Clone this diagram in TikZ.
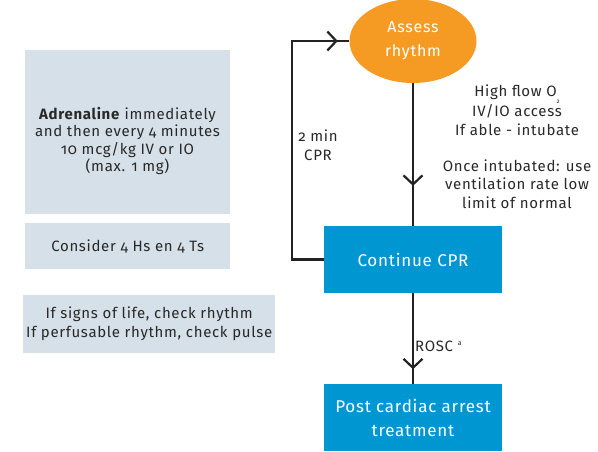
\documentclass[tikz,border=0pt]{standalone}
\usepackage{fontspec}
\setmainfont[Numbers=OldStyle,LetterSpace=4.5]{Fira Sans}
\usetikzlibrary{shapes.geometric,arrows.meta,decorations.markings}
\definecolor{flowblue}{RGB}{0,150,210}
\definecolor{flowgray}{RGB}{214,224,232}
\definecolor{floworange}{RGB}{245,155,35}
\definecolor{flowline}{RGB}{34,34,34}
\definecolor{flowtext}{RGB}{40,40,40}
\tikzset{
  x=1pt, y=-1pt,
  bluebox/.style={fill=flowblue, text=white, minimum width=178pt, minimum height=67pt,
    align=center, font=\fontsize{17}{24}\selectfont, inner sep=0pt},
  graybox/.style={fill=flowgray, anchor=north west, inner sep=0pt},
  note/.style={text=flowtext, align=center, font=\fontsize{15}{18}\selectfont, inner sep=0pt},
  flow/.style={draw=flowline, line width=2.2pt},
  midchevron/.style={postaction={decorate}, decoration={markings,
    mark=at position #1 with {\arrow{Straight Barb[length=9pt,width=19pt,line width=2.2pt]}}}},
}
\begin{document}
\begin{tikzpicture}
\useasboundingbox (0,0) rectangle (598,451);

% side panels
\node[graybox, minimum width=205pt, minimum height=164pt] (g1) at (25,50) {};
\node[graybox, minimum width=205pt, minimum height=46pt] (g2) at (25,223) {};
\node[graybox, minimum width=252pt, minimum height=58pt] (g3) at (23,295) {};
\node[note, font=\fontsize{15}{17.5}\selectfont] (t1) at (127.5,141) {\textbf{Adrenaline} immediately\\and then every 4 minutes\\10 mcg/kg IV or IO\\(max. 1 mg)};
\node[note] (t2) at (g2.center) {Consider 4 Hs en 4 Ts};
\node[note, font=\fontsize{15}{19}\selectfont] (t3) at (g3.center) {If signs of life, check rhythm\\If perfusable rhythm, check pulse};

% main flow
\node[ellipse, fill=floworange, text=white, minimum width=127pt, minimum height=84pt,
  inner sep=0pt, align=center, font=\fontsize{16}{24}\selectfont] (assess) at (413,41) {Assess\\rhythm};
\node[bluebox] (cont) at (413,259.5) {Continue CPR};
\node[bluebox] (post) at (413,417.5) {Post cardiac arrest\\treatment};

\draw[flow, midchevron=0.72] (assess.south) -- (cont.north);
\draw[flow, midchevron=0.84] (cont.south) -- (post.north);
\coordinate (loopb) at (292,259.5);
\coordinate (loopt) at (292,41);
\draw[flow, line join=miter] (cont.west) -- (loopb) -- (loopt) -- (assess.west);
\draw[flow, midchevron=0.8] (loopt) -- (assess.west);

% labels
\node[note, font=\fontsize{15}{19}\selectfont] (cpr) at (318,145) {2 min\\CPR};
\node[note, font=\fontsize{15}{18.5}\selectfont] (o2) at (517,110) {High flow O\raisebox{-0.9ex}{\fontsize{6}{6}\selectfont 2}\\IV/IO access\\If able - intubate};
\node[note, font=\fontsize{15}{18.5}\selectfont] (vent) at (517,184) {Once intubated: use\\ventilation rate low\\limit of normal};
\node[note, anchor=west] (rosc) at (415,346) {ROSC \raisebox{0.7ex}{\fontsize{7}{7}\selectfont a}};
\end{tikzpicture}
\end{document}
